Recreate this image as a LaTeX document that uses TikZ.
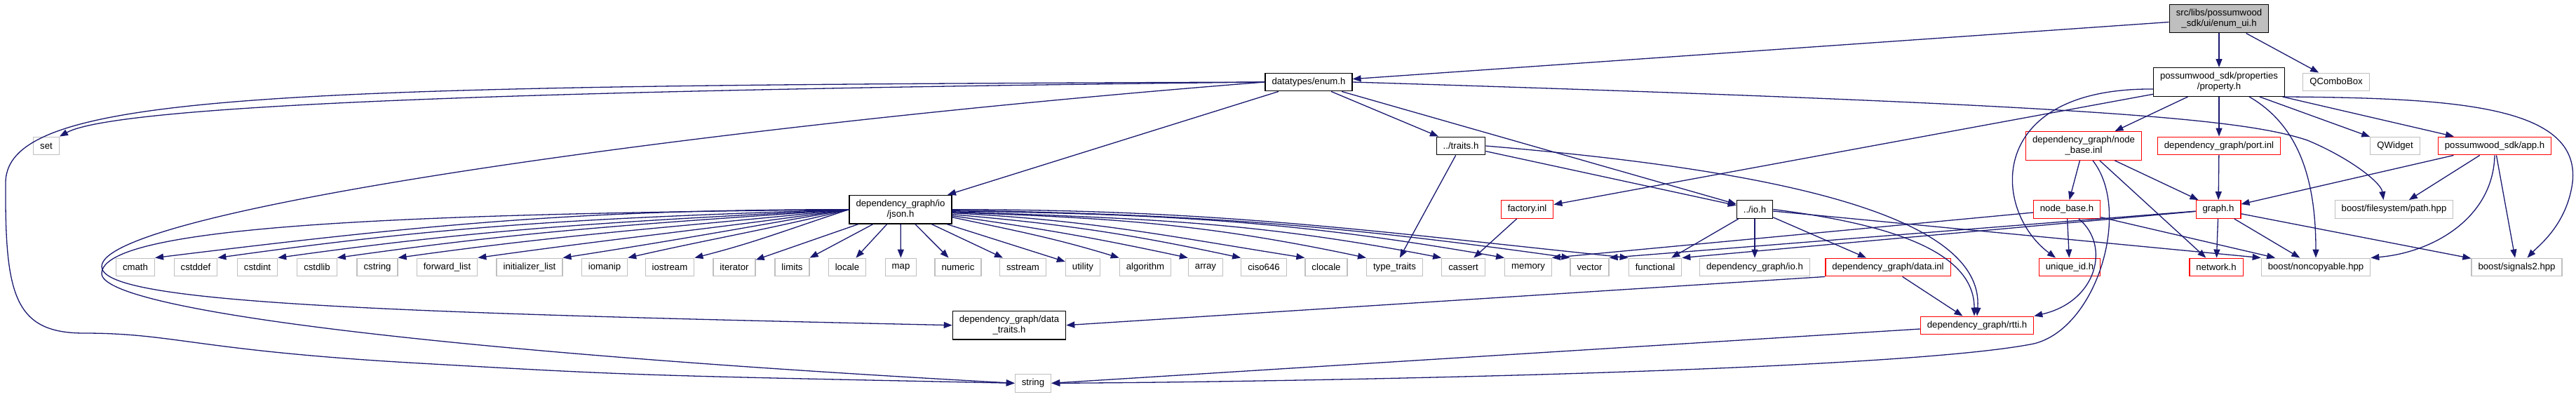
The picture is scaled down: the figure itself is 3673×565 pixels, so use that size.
\documentclass[tikz,border=0pt]{standalone}
\usepackage{fontspec}
\setmainfont{Liberation Sans}
\usetikzlibrary{arrows.meta}

\definecolor{edgeblue}{HTML}{191970}
\definecolor{boxgray}{HTML}{BFBFBF}
\definecolor{boxred}{HTML}{FF0000}

\begin{document}
\begin{tikzpicture}[
  x=1pt, y=-1pt,
  file/.style={draw, line width=1.2pt, fill=white, align=center,
    font=\fontsize{13.2}{15}\selectfont,
    inner xsep=9.5pt, inner ysep=2pt, minimum height=25.7pt},
  own/.style={file, draw=black},
  trunc/.style={file, draw=boxred},
  sys/.style={file, draw=boxgray},
  root/.style={file, draw=black, fill=boxgray},
  two/.style={minimum height=40.7pt},
  dep/.style={draw=edgeblue, line width=1.3pt, -{Triangle[length=12pt,width=9pt]}}
]
\useasboundingbox (0,0) rectangle (3673,565);

% the file and what it pulls in directly
\node[root, two] (root) at (3164,26.5) {src/libs/possumwood\\\_sdk/ui/enum\_ui.h};
\node[own] (enumh) at (1866,117) {datatypes/enum.h};
\node[own, two] (prop) at (3164,117) {possumwood\_sdk/properties\\/property.h};
\node[sys] (combo) at (3331,117) {QComboBox};

\node[sys] (set) at (66,208) {set};
\node[own] (traits) at (2083,208) {../traits.h};
\node[trunc, two] (nbinl) at (2971,208) {dependency\_graph/node\\\_base.inl};
\node[trunc] (port) at (3164,208) {dependency\_graph/port.inl};
\node[sys] (qwidget) at (3415,208) {QWidget};
\node[trunc] (app) at (3557,208) {possumwood\_sdk/app.h};

\node[own, two] (json) at (1284,298.7) {dependency\_graph/io\\/json.h};
\node[trunc] (factory) at (2177.5,298.5) {factory.inl};
\node[own] (ioh) at (2502,298.5) {../io.h};
\node[trunc] (nbh) at (2947,298.5) {node\_base.h};
\node[trunc] (graph) at (3163,298.5) {graph.h};
\node[sys] (fspath) at (3413.5,298.5) {boost/filesystem/path.hpp};

% standard headers
\node[sys] (cmath) at (193,381) {cmath};
\node[sys] (cstddef) at (279,381) {cstddef};
\node[sys] (cstdint) at (367,381) {cstdint};
\node[sys] (cstdlib) at (452,381) {cstdlib};
\node[sys] (cstring) at (538,381) {cstring};
\node[sys] (fwdlist) at (637.5,381) {forward\_list};
\node[sys] (initlist) at (755,381) {initializer\_list};
\node[sys] (iomanip) at (862,381) {iomanip};
\node[sys] (iostream) at (955,381) {iostream};
\node[sys] (iterator) at (1047,381) {iterator};
\node[sys] (limits) at (1129.5,381) {limits};
\node[sys] (locale) at (1208,381) {locale};
\node[sys] (map) at (1284.5,381) {map};
\node[sys] (numeric) at (1366,381) {numeric};
\node[sys] (sstream) at (1458.5,381) {sstream};
\node[sys] (utility) at (1544,381) {utility};
\node[sys] (algorithm) at (1633,381) {algorithm};
\node[sys] (array) at (1719,381) {array};
\node[sys] (ciso) at (1802,381) {ciso646};
\node[sys] (clocale) at (1891,381) {clocale};
\node[sys] (typetraits) at (1988.5,381) {type\_traits};
\node[sys] (cassert) at (2086.5,381) {cassert};
\node[sys] (memory) at (2179,381) {memory};
\node[sys] (vector) at (2266.5,381) {vector};
\node[sys] (functional) at (2360,381) {functional};

\node[sys] (dgio) at (2502,381) {dependency\_graph/io.h};
\node[trunc] (datainl) at (2692,381) {dependency\_graph/data.inl};
\node[trunc] (uid) at (2951,381) {unique\_id.h};
\node[trunc] (network) at (3160,381) {network.h};
\node[sys] (noncopy) at (3302,381) {boost/noncopyable.hpp};
\node[sys] (signals) at (3588.5,381) {boost/signals2.hpp};

\node[own, two] (datatraits) at (1439,463.7) {dependency\_graph/data\\\_traits.h};
\node[trunc] (rtti) at (2819,464) {dependency\_graph/rtti.h};
\node[sys] (string) at (1473,546.3) {string};

% enum_ui.h
\draw[dep] (root) -- (enumh);
\draw[dep] (root) -- (prop);
\draw[dep] (root) -- (combo);

% datatypes/enum.h
\draw[dep] (enumh.west) .. controls (800,128) and (170,148) .. (set.north east);
\draw[dep] (enumh.west) .. controls (400,122) and (10,130) .. (8,260)
  .. controls (7,420) and (20,475) .. (120,475)
  .. controls (250,475) and (280,500) .. (600,518)
  .. controls (900,535) .. (string.west);
\draw[dep] (enumh.west) .. controls (1000,180) and (145,300) .. (145,380)
  .. controls (145,430) and (500,445) .. (datatraits.west);
\draw[dep] (enumh) -- (json);
\draw[dep] (enumh) -- (traits);
\draw[dep] (enumh) -- (ioh);
\draw[dep] (enumh.east) .. controls (3000,150) and (3200,170) .. (3290,200)
  .. controls (3350,225) and (3395,260) .. ([xshift=-15pt]fspath.north);

% ../traits.h
\draw[dep] (traits) -- (typetraits);
\draw[dep] (traits) -- (ioh);
\draw[dep] (traits.east) .. controls (2500,240) and (2830,300) .. (rtti.north);

% dependency_graph/io/json.h, left fan
\draw[dep] (json.west) .. controls +(-386,0) and +(383,-47) .. (cmath.north east);
\draw[dep] (json.west) .. controls +(-352,12) and +(349,-49) .. (cstddef.north east);
\draw[dep] (json.west) .. controls +(-318,17) and +(315,-44) .. (cstdint.north east);
\draw[dep] (json.west) .. controls +(-284,20) and +(282,-40) .. (cstdlib.north east);
\draw[dep] (json.west) .. controls +(-252,26) and +(250,-35) .. (cstring.north east);
\draw[dep] (json.west) .. controls +(-207,29) and +(207,-29) .. (fwdlist.north east);
\draw[dep] (json.west) .. controls +(-160,28) and +(161,-25) .. (initlist.north east);
\draw[dep] (json.west) .. controls +(-122,30) and +(123,-28) .. (iomanip.north east);
\draw[dep] (json.west) .. controls +(-86,28) and +(87,-22) .. (iostream.north east);
\draw[dep] (json) -- (iterator);
\draw[dep] (json) -- (limits);
\draw[dep] (json) -- (locale);
\draw[dep] (json) -- (map);
% right fan
\draw[dep] (json) -- (numeric);
\draw[dep] (json) -- (sstream);
\draw[dep] (json) -- (utility);
\draw[dep] ([yshift=-11pt]json.east) .. controls +(94,20) and +(-92,-28) .. (algorithm.north west);
\draw[dep] ([yshift=-9pt]json.east) .. controls +(133,19) and +(-131,-28) .. (array.north west);
\draw[dep] ([yshift=-7pt]json.east) .. controls +(162,14) and +(-159,-34) .. (ciso.north west);
\draw[dep] ([yshift=-5pt]json.east) .. controls +(198,10) and +(-196,-31) .. (clocale.north west);
\draw[dep] ([yshift=-4pt]json.east) .. controls +(232,8) and +(-227,-48) .. (typetraits.north west);
\draw[dep] ([yshift=-3pt]json.east) .. controls +(273,10) and +(-268,-52) .. (cassert.north west);
\draw[dep] ([yshift=-2pt]json.east) .. controls +(308,5) and +(-303,-53) .. (memory.north west);
\draw[dep] ([yshift=-1pt]json.east) .. controls +(345,6) and +(-342,-48) .. (vector.north west);
\draw[dep] (json.east) .. controls +(377,0) and +(-375,-39) .. (functional.north west);
\draw[dep] (json.west) .. controls (600,305) and (145,320) .. (145,390)
  .. controls (145,440) and (600,500) .. (string.west);

% ../io.h
\draw[dep] (ioh) -- (functional);
\draw[dep] (ioh) -- (dgio);
\draw[dep] (ioh) -- (datainl);
\draw[dep] (ioh.east) .. controls (2700,320) and (2815,360) .. ([xshift=-4pt]rtti.north);
\draw[dep] (ioh) -- (noncopy.north west);

% possumwood_sdk/properties/property.h
\draw[dep] (prop) -- (nbinl);
\draw[dep] (prop) -- (port);
\draw[dep] (prop) -- (qwidget);
\draw[dep] (prop) -- (app);
\draw[dep] (prop) -- (factory);
\draw[dep] ([yshift=-10pt]prop.west) .. controls (2830,125) and (2840,300) .. ([xshift=-20pt]uid.north);
\draw[dep] ([xshift=43pt]prop.south) .. controls (3280,180) and (3302,260) .. (noncopy.north);
\draw[dep] (prop.south east) .. controls (3500,140) and (3680,150) .. (3668,260)
  .. controls (3660,320) and (3620,350) .. ([xshift=15pt]signals.north);

% node_base.inl
\draw[dep] (nbinl) -- (nbh);
\draw[dep] (nbinl) -- (graph);
\draw[dep] (nbinl) -- (network);
\draw[dep] ([xshift=13pt]nbinl.south) .. controls (3040,300) and (2990,468) .. (2900,490)
  .. controls (2700,530) and (1800,545) .. (string.east);

% node_base.h
\draw[dep] (nbh) -- (uid);
\draw[dep] (nbh) -- (noncopy);
\draw[dep] (nbh) -- (memory.north east);
\draw[dep] ([xshift=17pt]nbh.south) .. controls (3010,350) and (2990,430) .. (rtti.north east);

% graph.h
\draw[dep] (graph) -- (network);
\draw[dep] (graph) -- (noncopy);
\draw[dep] (graph) -- (signals);
\draw[dep] (graph) -- (vector.north east);
\draw[dep] (graph) -- (functional.north east);

% the rest
\draw[dep] (port) -- (graph);
\draw[dep] (app) -- (graph);
\draw[dep] (app) -- (fspath);
\draw[dep] (app) -- (signals);
\draw[dep] (app.south) .. controls (3555,310) and (3470,360) .. (noncopy.north east);
\draw[dep] (factory) -- (cassert);
\draw[dep] (datainl) -- (rtti);
\draw[dep] (datainl.south west) -- (datatraits.east);
\draw[dep] (rtti) -- (string.east);

\end{tikzpicture}
\end{document}
